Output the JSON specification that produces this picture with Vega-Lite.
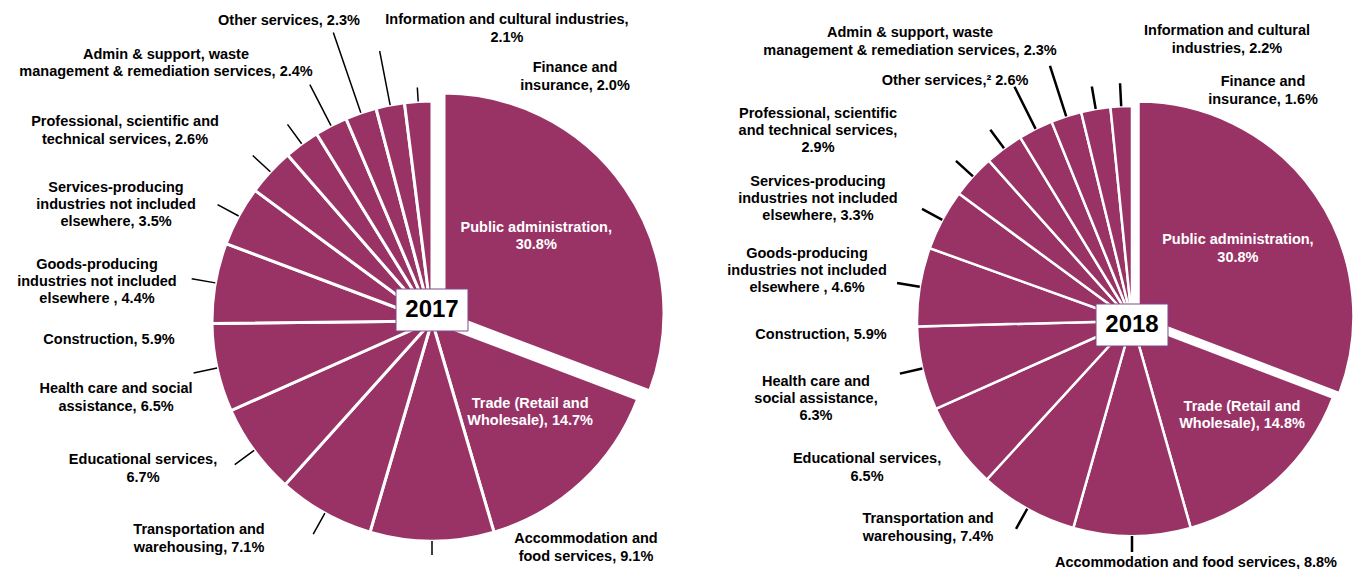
{
  "$schema": "https://vega.github.io/schema/vega-lite/v6.json",
  "width": 1353,
  "height": 496,
  "autosize": {"type": "none"},
  "padding": {"left": 0, "right": 0, "top": 73, "bottom": 0},
  "background": "white",
  "config": {
    "view": {"stroke": null},
    "text": {"font": "Liberation Sans", "fontWeight": "bold", "fontSize": 14.5, "lineHeight": 17.3, "lineBreak": "\n", "align": "center", "baseline": "middle", "color": "black"}
  },
  "data": {"values": [
    {"year": "2017", "industry": "Public administration", "share": 30.8, "label": "Public administration,\n30.8%"},
    {"year": "2017", "industry": "Trade", "share": 14.7, "label": "Trade (Retail and\nWholesale), 14.7%"},
    {"year": "2017", "industry": "Accommodation and food services", "share": 9.1, "label": "Accommodation and\nfood services, 9.1%"},
    {"year": "2017", "industry": "Transportation and warehousing", "share": 7.1, "label": "Transportation and\nwarehousing, 7.1%"},
    {"year": "2017", "industry": "Educational services", "share": 6.7, "label": "Educational services,\n6.7%"},
    {"year": "2017", "industry": "Health care and social assistance", "share": 6.5, "label": "Health care and social\nassistance, 6.5%"},
    {"year": "2017", "industry": "Construction", "share": 5.9, "label": "Construction, 5.9%"},
    {"year": "2017", "industry": "Goods-producing n.i.e.", "share": 4.4, "label": "Goods-producing\nindustries not included\nelsewhere , 4.4%"},
    {"year": "2017", "industry": "Services-producing n.i.e.", "share": 3.5, "label": "Services-producing\nindustries not included\nelsewhere, 3.5%"},
    {"year": "2017", "industry": "Professional services", "share": 2.6, "label": "Professional, scientific and\ntechnical services, 2.6%"},
    {"year": "2017", "industry": "Admin & support services", "share": 2.4, "label": "Admin & support, waste\nmanagement & remediation services, 2.4%"},
    {"year": "2017", "industry": "Other services", "share": 2.3, "label": "Other services, 2.3%"},
    {"year": "2017", "industry": "Information and cultural industries", "share": 2.1, "label": "Information and cultural industries,\n2.1%"},
    {"year": "2017", "industry": "Finance and insurance", "share": 2.0, "label": "Finance and\ninsurance, 2.0%"},
    {"year": "2018", "industry": "Public administration", "share": 30.8, "label": "Public administration,\n30.8%"},
    {"year": "2018", "industry": "Trade", "share": 14.8, "label": "Trade (Retail and\nWholesale), 14.8%"},
    {"year": "2018", "industry": "Accommodation and food services", "share": 8.8, "label": "Accommodation and food services, 8.8%"},
    {"year": "2018", "industry": "Transportation and warehousing", "share": 7.4, "label": "Transportation and\nwarehousing, 7.4%"},
    {"year": "2018", "industry": "Educational services", "share": 6.5, "label": "Educational services,\n6.5%"},
    {"year": "2018", "industry": "Health care and social assistance", "share": 6.3, "label": "Health care and\nsocial assistance,\n6.3%"},
    {"year": "2018", "industry": "Construction", "share": 5.9, "label": "Construction, 5.9%"},
    {"year": "2018", "industry": "Goods-producing n.i.e.", "share": 4.6, "label": "Goods-producing\nindustries not included\nelsewhere , 4.6%"},
    {"year": "2018", "industry": "Services-producing n.i.e.", "share": 3.3, "label": "Services-producing\nindustries not included\nelsewhere, 3.3%"},
    {"year": "2018", "industry": "Professional services", "share": 2.9, "label": "Professional, scientific\nand technical services,\n2.9%"},
    {"year": "2018", "industry": "Other services", "share": 2.6, "label": "Other services,² 2.6%"},
    {"year": "2018", "industry": "Admin & support services", "share": 2.3, "label": "Admin & support, waste\nmanagement & remediation services, 2.3%"},
    {"year": "2018", "industry": "Information and cultural industries", "share": 2.2, "label": "Information and cultural\nindustries, 2.2%"},
    {"year": "2018", "industry": "Finance and insurance", "share": 1.6, "label": "Finance and\ninsurance, 1.6%"}
  ]},
  "transform": [
    {"stack": "share", "groupby": ["year"], "sort": [{"field": "share", "order": "descending"}], "offset": "normalize", "as": ["s0", "s1"]},
    {"fold": ["s0", "s1"], "as": ["edge", "pos"]},
    {"aggregate": [{"op": "mean", "field": "pos", "as": "mid"}], "groupby": ["year", "industry", "share", "label", "s0", "s1"]}
  ],
  "encoding": {
    "x": {"field": "year", "type": "nominal", "axis": null, "scale": {"type": "point", "domain": ["2017", "2018"], "range": [432, 1132], "padding": 0}}
  },
  "layer": [
    {"transform": [{"filter": {"and": [{"field": "year", "equal": "2017"}, {"not": {"field": "industry", "equal": "Public administration"}}]}}],
     "mark": {"type": "arc", "radius": 220, "fill": "#993366", "stroke": "white", "strokeWidth": 3},
     "encoding": {"theta": {"field": "s0", "type": "quantitative", "stack": null, "scale": {"domain": [0, 1]}}, "theta2": {"field": "s1"}}},
    {"transform": [{"filter": {"and": [{"field": "year", "equal": "2017"}, {"field": "industry", "equal": "Public administration"}]}}],
     "mark": {"type": "arc", "radius": 220, "fill": "#993366", "stroke": "white", "strokeWidth": 3, "xOffset": 12, "yOffset": -8},
     "encoding": {"theta": {"field": "s0", "type": "quantitative", "stack": null, "scale": {"domain": [0, 1]}}, "theta2": {"field": "s1"}}},
    {"transform": [{"filter": {"and": [{"field": "year", "equal": "2018"}, {"not": {"field": "industry", "equal": "Public administration"}}]}}],
     "mark": {"type": "arc", "radius": 215, "fill": "#993366", "stroke": "white", "strokeWidth": 2.5},
     "encoding": {"theta": {"field": "s0", "type": "quantitative", "stack": null, "scale": {"domain": [0, 1]}}, "theta2": {"field": "s1"}}},
    {"transform": [{"filter": {"and": [{"field": "year", "equal": "2018"}, {"field": "industry", "equal": "Public administration"}]}}],
     "mark": {"type": "arc", "radius": 215, "fill": "#993366", "stroke": "white", "strokeWidth": 2.5, "xOffset": 6.5, "yOffset": -4.5},
     "encoding": {"theta": {"field": "s0", "type": "quantitative", "stack": null, "scale": {"domain": [0, 1]}}, "theta2": {"field": "s1"}}},

    {"transform": [{"filter": {"and": [{"field": "year", "equal": "2017"}, {"field": "industry", "oneOf": ["Professional services", "Services-producing n.i.e.", "Goods-producing n.i.e.", "Construction", "Health care and social assistance", "Educational services", "Transportation and warehousing"]}]}}],
     "mark": {"type": "arc", "radius": 244, "radius2": 220, "filled": false, "color": "black", "strokeWidth": 1.5},
     "encoding": {"theta": {"field": "mid", "type": "quantitative", "stack": null, "scale": {"domain": [0, 1]}}, "theta2": {"field": "mid"}}},
    {"transform": [{"filter": {"and": [{"field": "year", "equal": "2017"}, {"field": "industry", "oneOf": ["Accommodation and food services", "Finance and insurance"]}]}}],
     "mark": {"type": "arc", "radius": 234, "radius2": 220, "filled": false, "color": "black", "strokeWidth": 1.5},
     "encoding": {"theta": {"field": "mid", "type": "quantitative", "stack": null, "scale": {"domain": [0, 1]}}, "theta2": {"field": "mid"}}},
    {"transform": [{"filter": {"and": [{"field": "year", "equal": "2017"}, {"field": "industry", "equal": "Other services"}]}}],
     "mark": {"type": "arc", "radius": 305, "radius2": 220, "filled": false, "color": "black", "strokeWidth": 1.5},
     "encoding": {"theta": {"field": "mid", "type": "quantitative", "stack": null, "scale": {"domain": [0, 1]}}, "theta2": {"field": "mid"}}},
    {"transform": [{"filter": {"and": [{"field": "year", "equal": "2017"}, {"field": "industry", "equal": "Information and cultural industries"}]}}],
     "mark": {"type": "arc", "radius": 275, "radius2": 220, "filled": false, "color": "black", "strokeWidth": 1.5},
     "encoding": {"theta": {"field": "mid", "type": "quantitative", "stack": null, "scale": {"domain": [0, 1]}}, "theta2": {"field": "mid"}}},
    {"transform": [{"filter": {"and": [{"field": "year", "equal": "2017"}, {"field": "industry", "equal": "Admin & support services"}]}}],
     "mark": {"type": "arc", "radius": 266, "radius2": 220, "filled": false, "color": "black", "strokeWidth": 1.5},
     "encoding": {"theta": {"field": "mid", "type": "quantitative", "stack": null, "scale": {"domain": [0, 1]}}, "theta2": {"field": "mid"}}},

    {"transform": [{"filter": {"and": [{"field": "year", "equal": "2018"}, {"field": "industry", "oneOf": ["Professional services", "Services-producing n.i.e.", "Goods-producing n.i.e.", "Construction", "Health care and social assistance", "Transportation and warehousing", "Information and cultural industries", "Finance and insurance"]}]}}],
     "mark": {"type": "arc", "radius": 238, "radius2": 215, "filled": false, "color": "black", "strokeWidth": 2.5},
     "encoding": {"theta": {"field": "mid", "type": "quantitative", "stack": null, "scale": {"domain": [0, 1]}}, "theta2": {"field": "mid"}}},
    {"transform": [{"filter": {"and": [{"field": "year", "equal": "2018"}, {"field": "industry", "equal": "Accommodation and food services"}]}}],
     "mark": {"type": "arc", "radius": 231, "radius2": 215, "filled": false, "color": "black", "strokeWidth": 2.5},
     "encoding": {"theta": {"field": "mid", "type": "quantitative", "stack": null, "scale": {"domain": [0, 1]}}, "theta2": {"field": "mid"}}},
    {"transform": [{"filter": {"and": [{"field": "year", "equal": "2018"}, {"field": "industry", "equal": "Admin & support services"}]}}],
     "mark": {"type": "arc", "radius": 268, "radius2": 215, "filled": false, "color": "black", "strokeWidth": 2.5},
     "encoding": {"theta": {"field": "mid", "type": "quantitative", "stack": null, "scale": {"domain": [0, 1]}}, "theta2": {"field": "mid"}}},
    {"transform": [{"filter": {"and": [{"field": "year", "equal": "2018"}, {"field": "industry", "equal": "Other services"}]}}],
     "mark": {"type": "arc", "radius": 262, "radius2": 215, "filled": false, "color": "black", "strokeWidth": 2.5},
     "encoding": {"theta": {"field": "mid", "type": "quantitative", "stack": null, "scale": {"domain": [0, 1]}}, "theta2": {"field": "mid"}}},

    {"transform": [{"filter": {"and": [{"field": "year", "equal": "2017"}, {"field": "industry", "oneOf": ["Public administration", "Trade"]}]}}],
     "mark": {"type": "text", "radius": 134, "thetaOffset": -0.075, "color": "white", "dy": -8.65},
     "encoding": {"theta": {"field": "mid", "type": "quantitative", "stack": null, "scale": {"domain": [0, 1]}}, "text": {"field": "label"}}},
    {"transform": [{"filter": {"and": [{"field": "year", "equal": "2018"}, {"field": "industry", "equal": "Public administration"}]}}],
     "mark": {"type": "text", "radius": 128, "thetaOffset": 0.007, "color": "white", "dy": -8.65},
     "encoding": {"theta": {"field": "mid", "type": "quantitative", "stack": null, "scale": {"domain": [0, 1]}}, "text": {"field": "label"}}},
    {"transform": [{"filter": {"and": [{"field": "year", "equal": "2018"}, {"field": "industry", "equal": "Trade"}]}}],
     "mark": {"type": "text", "radius": 145, "thetaOffset": -0.1197, "color": "white", "dy": -8.65},
     "encoding": {"theta": {"field": "mid", "type": "quantitative", "stack": null, "scale": {"domain": [0, 1]}}, "text": {"field": "label"}}},

    {"transform": [{"filter": {"and": [{"field": "year", "equal": "2017"}, {"field": "industry", "equal": "Other services"}]}}],
     "mark": {"type": "text", "radius": 332.8, "thetaOffset": -0.1147},
     "encoding": {"theta": {"field": "mid", "type": "quantitative", "stack": null, "scale": {"domain": [0, 1]}}, "text": {"field": "label"}}},
    {"transform": [{"filter": {"and": [{"field": "year", "equal": "2017"}, {"field": "industry", "equal": "Admin & support services"}]}}],
     "mark": {"type": "text", "radius": 370.2, "thetaOffset": -0.3246, "dy": -8.65},
     "encoding": {"theta": {"field": "mid", "type": "quantitative", "stack": null, "scale": {"domain": [0, 1]}}, "text": {"field": "label"}}},
    {"transform": [{"filter": {"and": [{"field": "year", "equal": "2017"}, {"field": "industry", "equal": "Professional services"}]}}],
     "mark": {"type": "text", "radius": 361.0, "thetaOffset": -0.3828, "dy": -8.65},
     "encoding": {"theta": {"field": "mid", "type": "quantitative", "stack": null, "scale": {"domain": [0, 1]}}, "text": {"field": "label"}}},
    {"transform": [{"filter": {"and": [{"field": "year", "equal": "2017"}, {"field": "industry", "equal": "Services-producing n.i.e."}]}}],
     "mark": {"type": "text", "radius": 336.6, "thetaOffset": -0.3936, "dy": -17.3},
     "encoding": {"theta": {"field": "mid", "type": "quantitative", "stack": null, "scale": {"domain": [0, 1]}}, "text": {"field": "label"}}},
    {"transform": [{"filter": {"and": [{"field": "year", "equal": "2017"}, {"field": "industry", "equal": "Goods-producing n.i.e."}]}}],
     "mark": {"type": "text", "radius": 337.3, "thetaOffset": -0.3815, "dy": -17.3},
     "encoding": {"theta": {"field": "mid", "type": "quantitative", "stack": null, "scale": {"domain": [0, 1]}}, "text": {"field": "label"}}},
    {"transform": [{"filter": {"and": [{"field": "year", "equal": "2017"}, {"field": "industry", "equal": "Construction"}]}}],
     "mark": {"type": "text", "radius": 323.6, "thetaOffset": -0.2344},
     "encoding": {"theta": {"field": "mid", "type": "quantitative", "stack": null, "scale": {"domain": [0, 1]}}, "text": {"field": "label"}}},
    {"transform": [{"filter": {"and": [{"field": "year", "equal": "2017"}, {"field": "industry", "equal": "Health care and social assistance"}]}}],
     "mark": {"type": "text", "radius": 325.2, "thetaOffset": -0.0241, "dy": -8.65},
     "encoding": {"theta": {"field": "mid", "type": "quantitative", "stack": null, "scale": {"domain": [0, 1]}}, "text": {"field": "label"}}},
    {"transform": [{"filter": {"and": [{"field": "year", "equal": "2017"}, {"field": "industry", "equal": "Educational services"}]}}],
     "mark": {"type": "text", "radius": 324.7, "thetaOffset": 0.1559, "dy": -8.65},
     "encoding": {"theta": {"field": "mid", "type": "quantitative", "stack": null, "scale": {"domain": [0, 1]}}, "text": {"field": "label"}}},
    {"transform": [{"filter": {"and": [{"field": "year", "equal": "2017"}, {"field": "industry", "equal": "Transportation and warehousing"}]}}],
     "mark": {"type": "text", "radius": 319.1, "thetaOffset": 0.3101, "dy": -8.65},
     "encoding": {"theta": {"field": "mid", "type": "quantitative", "stack": null, "scale": {"domain": [0, 1]}}, "text": {"field": "label"}}},
    {"transform": [{"filter": {"and": [{"field": "year", "equal": "2017"}, {"field": "industry", "equal": "Accommodation and food services"}]}}],
     "mark": {"type": "text", "radius": 274.3, "thetaOffset": -0.596, "dy": -8.65},
     "encoding": {"theta": {"field": "mid", "type": "quantitative", "stack": null, "scale": {"domain": [0, 1]}}, "text": {"field": "label"}}},
    {"transform": [{"filter": {"and": [{"field": "year", "equal": "2017"}, {"field": "industry", "equal": "Information and cultural industries"}]}}],
     "mark": {"type": "text", "radius": 301.5, "thetaOffset": 0.4428, "dy": -8.65},
     "encoding": {"theta": {"field": "mid", "type": "quantitative", "stack": null, "scale": {"domain": [0, 1]}}, "text": {"field": "label"}}},
    {"transform": [{"filter": {"and": [{"field": "year", "equal": "2017"}, {"field": "industry", "equal": "Finance and insurance"}]}}],
     "mark": {"type": "text", "radius": 282.8, "thetaOffset": 0.5929, "dy": -8.65},
     "encoding": {"theta": {"field": "mid", "type": "quantitative", "stack": null, "scale": {"domain": [0, 1]}}, "text": {"field": "label"}}},

    {"transform": [{"filter": {"and": [{"field": "year", "equal": "2018"}, {"field": "industry", "equal": "Admin & support services"}]}}],
     "mark": {"type": "text", "radius": 356.5, "thetaOffset": -0.3611, "dy": -8.65},
     "encoding": {"theta": {"field": "mid", "type": "quantitative", "stack": null, "scale": {"domain": [0, 1]}}, "text": {"field": "label"}}},
    {"transform": [{"filter": {"and": [{"field": "year", "equal": "2018"}, {"field": "industry", "equal": "Other services"}]}}],
     "mark": {"type": "text", "radius": 298.6, "thetaOffset": -0.1695},
     "encoding": {"theta": {"field": "mid", "type": "quantitative", "stack": null, "scale": {"domain": [0, 1]}}, "text": {"field": "label"}}},
    {"transform": [{"filter": {"and": [{"field": "year", "equal": "2018"}, {"field": "industry", "equal": "Professional services"}]}}],
     "mark": {"type": "text", "radius": 367.0, "thetaOffset": -0.3889, "dy": -17.3},
     "encoding": {"theta": {"field": "mid", "type": "quantitative", "stack": null, "scale": {"domain": [0, 1]}}, "text": {"field": "label"}}},
    {"transform": [{"filter": {"and": [{"field": "year", "equal": "2018"}, {"field": "industry", "equal": "Information and cultural industries"}]}}],
     "mark": {"type": "text", "radius": 296.6, "thetaOffset": 0.4957, "dy": -8.65},
     "encoding": {"theta": {"field": "mid", "type": "quantitative", "stack": null, "scale": {"domain": [0, 1]}}, "text": {"field": "label"}}},
    {"transform": [{"filter": {"and": [{"field": "year", "equal": "2018"}, {"field": "industry", "equal": "Finance and insurance"}]}}],
     "mark": {"type": "text", "radius": 264.7, "thetaOffset": 0.5681, "dy": -8.65},
     "encoding": {"theta": {"field": "mid", "type": "quantitative", "stack": null, "scale": {"domain": [0, 1]}}, "text": {"field": "label"}}},
    {"transform": [{"filter": {"and": [{"field": "year", "equal": "2018"}, {"field": "industry", "equal": "Services-producing n.i.e."}]}}],
     "mark": {"type": "text", "radius": 336.9, "thetaOffset": -0.3677, "dy": -17.3},
     "encoding": {"theta": {"field": "mid", "type": "quantitative", "stack": null, "scale": {"domain": [0, 1]}}, "text": {"field": "label"}}},
    {"transform": [{"filter": {"and": [{"field": "year", "equal": "2018"}, {"field": "industry", "equal": "Goods-producing n.i.e."}]}}],
     "mark": {"type": "text", "radius": 328.8, "thetaOffset": -0.3374, "dy": -17.3},
     "encoding": {"theta": {"field": "mid", "type": "quantitative", "stack": null, "scale": {"domain": [0, 1]}}, "text": {"field": "label"}}},
    {"transform": [{"filter": {"and": [{"field": "year", "equal": "2018"}, {"field": "industry", "equal": "Construction"}]}}],
     "mark": {"type": "text", "radius": 311.3, "thetaOffset": -0.2053},
     "encoding": {"theta": {"field": "mid", "type": "quantitative", "stack": null, "scale": {"domain": [0, 1]}}, "text": {"field": "label"}}},
    {"transform": [{"filter": {"and": [{"field": "year", "equal": "2018"}, {"field": "industry", "equal": "Health care and social assistance"}]}}],
     "mark": {"type": "text", "radius": 325.5, "thetaOffset": -0.019, "dy": -17.3},
     "encoding": {"theta": {"field": "mid", "type": "quantitative", "stack": null, "scale": {"domain": [0, 1]}}, "text": {"field": "label"}}},
    {"transform": [{"filter": {"and": [{"field": "year", "equal": "2018"}, {"field": "industry", "equal": "Educational services"}]}}],
     "mark": {"type": "text", "radius": 303.0, "thetaOffset": 0.1187, "dy": -8.65},
     "encoding": {"theta": {"field": "mid", "type": "quantitative", "stack": null, "scale": {"domain": [0, 1]}}, "text": {"field": "label"}}},
    {"transform": [{"filter": {"and": [{"field": "year", "equal": "2018"}, {"field": "industry", "equal": "Transportation and warehousing"}]}}],
     "mark": {"type": "text", "radius": 290.6, "thetaOffset": 0.2691, "dy": -8.65},
     "encoding": {"theta": {"field": "mid", "type": "quantitative", "stack": null, "scale": {"domain": [0, 1]}}, "text": {"field": "label"}}},
    {"transform": [{"filter": {"and": [{"field": "year", "equal": "2018"}, {"field": "industry", "equal": "Accommodation and food services"}]}}],
     "mark": {"type": "text", "radius": 250.3, "thetaOffset": -0.2585},
     "encoding": {"theta": {"field": "mid", "type": "quantitative", "stack": null, "scale": {"domain": [0, 1]}}, "text": {"field": "label"}}},

    {"transform": [{"filter": {"and": [{"field": "year", "equal": "2017"}, {"field": "industry", "equal": "Public administration"}]}}],
     "mark": {"type": "point", "shape": "M-1.714,-1L1.714,-1L1.714,1L-1.714,1Z", "size": 1764, "filled": true, "fill": "white", "stroke": "#7d4a8c", "strokeWidth": 1, "opacity": 1, "yOffset": -11}},
    {"transform": [{"filter": {"and": [{"field": "year", "equal": "2018"}, {"field": "industry", "equal": "Public administration"}]}}],
     "mark": {"type": "point", "shape": "M-1.714,-1L1.714,-1L1.714,1L-1.714,1Z", "size": 1764, "filled": true, "fill": "white", "stroke": "#7d4a8c", "strokeWidth": 1, "opacity": 1, "yOffset": 4}},
    {"transform": [{"filter": {"and": [{"field": "year", "equal": "2017"}, {"field": "industry", "equal": "Public administration"}]}}],
     "mark": {"type": "text", "fontSize": 24, "yOffset": -11},
     "encoding": {"text": {"field": "year"}}},
    {"transform": [{"filter": {"and": [{"field": "year", "equal": "2018"}, {"field": "industry", "equal": "Public administration"}]}}],
     "mark": {"type": "text", "fontSize": 24, "yOffset": 4},
     "encoding": {"text": {"field": "year"}}}
  ]
}
